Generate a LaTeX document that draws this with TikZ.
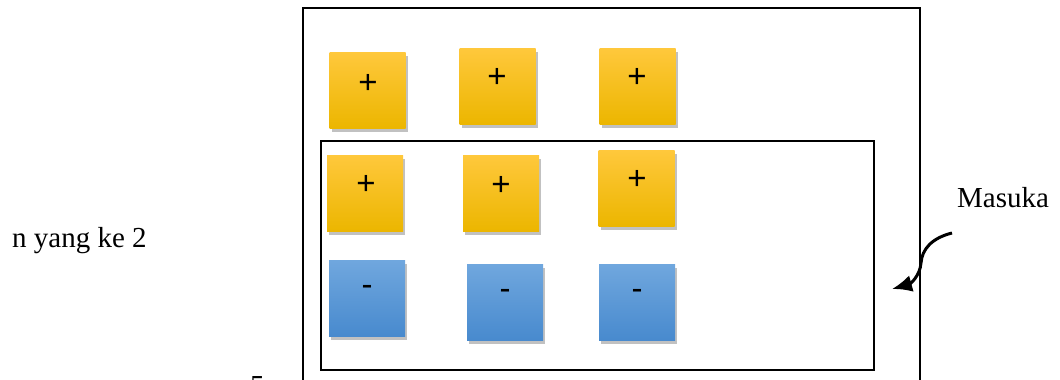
\documentclass[tikz,border=0pt]{standalone}
\usepackage{fontspec}
\setmainfont{Liberation Serif}
\newfontfamily\signfont{Liberation Sans}
\usetikzlibrary{shadows,arrows.meta}
\tikzset{
  sq/.style={minimum width=76pt, minimum height=76pt, inner sep=0pt, draw=none,
    drop shadow={shadow xshift=2pt, shadow yshift=-3.5pt, opacity=0.3, fill=black!80}},
  ysq/.style={sq, top color={rgb,255:red,255;green,200;blue,60}, bottom color={rgb,255:red,236;green,182;blue,0}},
  bsq/.style={sq, top color={rgb,255:red,112;green,167;blue,222}, bottom color={rgb,255:red,72;green,138;blue,206}},
  sign/.style={font=\signfont\fontsize{33}{33}\selectfont, inner sep=0pt},
  lbl/.style={font=\fontsize{29}{32}\selectfont, inner sep=0pt, anchor=base west},
  frame/.style={draw=black, line width=2.8pt},
  innerframe/.style={draw=black, line width=2.4pt},
  curvearrow/.style={-{Latex[length=20pt,width=17pt]}, line width=3pt}
}
\begin{document}
\begin{tikzpicture}[x=1pt,y=-1pt]
\useasboundingbox (0,0) rectangle (1060,380);
\clip (0,0) rectangle (1060,380);
% outer frame
\draw[frame] (303,385) -- (303,8) -- (920,8) -- (920,385);
% inner frame
\draw[innerframe] (321,141) rectangle (874,370);
% row 1
\node[ysq] (a1) at (367.5,90) {};
\node[ysq] (a2) at (497.5,86) {};
\node[ysq] (a3) at (637.5,86) {};
\node[sign] (sa1) at (368,84) {+};
\node[sign] (sa2) at (497,78) {+};
\node[sign] (sa3) at (637,78) {+};
% row 2
\node[ysq] (b1) at (365,193) {};
\node[ysq] (b2) at (501,193) {};
\node[ysq] (b3) at (636.5,188) {};
\node[sign] (sb1) at (366,185) {+};
\node[sign] (sb2) at (501,186) {+};
\node[sign] (sb3) at (637,180) {+};
% row 3
\node[bsq] (c1) at (367,298) {};
\node[bsq] (c2) at (505,302) {};
\node[bsq] (c3) at (637,302) {};
\node[sign] (sc1) at (367,290) {-};
\node[sign] (sc2) at (505,294) {-};
\node[sign] (sc3) at (637,294) {-};
% labels
\node[lbl] (l1) at (12,247) {n yang ke 2};
\node[lbl] (l2) at (957,207) {Masuka};
\node[lbl] (l3) at (250,395) {5};
% arrow
\coordinate (as) at (952,233);
\coordinate (am) at (921,263);
\coordinate (ae) at (892,289);
\draw[curvearrow] (as) .. controls (932,238) and (922,249) .. (am) .. controls (920,276) and (910,284) .. (ae);
\end{tikzpicture}
\end{document}
